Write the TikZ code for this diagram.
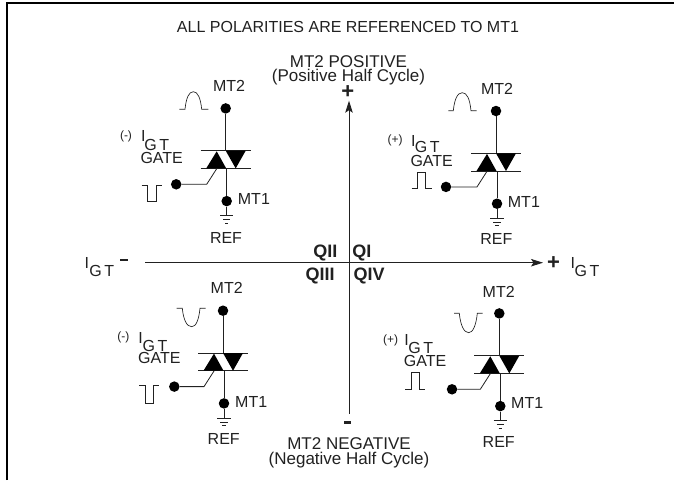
\documentclass[tikz,border=0pt]{standalone}
\usepackage{fontspec}
\setmainfont{Liberation Sans}
\usetikzlibrary{arrows.meta}
\definecolor{ink}{gray}{0.13}
\tikzset{
  x=1pt,y=-1pt,
  lbl/.style={inner sep=0pt,text=ink,font=\fontsize{16}{16}\selectfont},
  lbll/.style={lbl,anchor=west},
  axislbl/.style={inner sep=0pt,text=ink,font=\fontsize{17}{17}\selectfont},
  small/.style={inner sep=0pt,text=ink,font=\fontsize{12}{12}\selectfont},
  bold/.style={inner sep=0pt,text=ink,font=\fontsize{18}{18}\selectfont\bfseries},
  plusmark/.style={inner sep=0pt,text=ink,font=\fontsize{22}{22}\selectfont\bfseries},
  dot/.style={circle,fill=black,inner sep=0pt,minimum size=10.5pt},
  wire/.style={draw=ink,line width=0.8pt},
  thin wire/.style={draw=ink,line width=0.7pt},
  wave/.style={draw=ink,line width=0.65pt},
  axis/.style={draw=ink,line width=0.9pt},
}
\newcommand{\triac}[4]{%
  \begin{scope}[shift={(#1,#2)}]
    \draw[wire] (-25,0) -- (25,0);
    \draw[wire] (-25,17.7) -- (25,17.7);
    \fill[black] (-9,0.6) -- (-19.5,17.7) -- (0.5,17.7) -- cycle;
    \fill[black] (0,0) -- (20,0) -- (10,17.7) -- cycle;
    \node[dot] (#4t) at (0,-42.3) {};
    \node[dot] (#4b) at (1,50.4) {};
    \node[dot] (#4g) at (#3,33.6) {};
    \coordinate (#4u) at (0,0);
    \coordinate (#4l) at (1,17.7);
    \coordinate (#4e) at (-19,33.6);
    \coordinate (#4m) at (-9,18);
    \coordinate (#4gnd) at (1,65);
    \draw[wire] (#4t) -- (#4u);
    \draw[wire] (#4l) -- (#4b);
    \draw[wire] (#4g) -- (#4e) -- (#4m);
    \draw[wire] (#4b) -- (#4gnd);
    \draw[thin wire] (-5.7,65) -- (7.7,65);
    \draw[thin wire] (-2.7,69) -- (4.7,69);
    \draw[thin wire] (-0.7,72.5) -- (2.7,72.5);
  \end{scope}}
\begin{document}
\begin{tikzpicture}
\useasboundingbox (0,0) rectangle (674,480);
\fill[white] (0,0) rectangle (674,480);
\draw[black,line width=2pt] (7,480) -- (7,3) -- (674,3);

\node[lbl] (title) at (348,27.3) {ALL POLARITIES ARE REFERENCED TO MT1};
\node[axislbl] (mtp) at (348.5,61.7) {MT2 POSITIVE};
\node[axislbl] (phc) at (348.5,77.3) {(Positive Half Cycle)};
\node[axislbl] (mtn) at (349,443.5) {MT2 NEGATIVE};
\node[axislbl] (nhc) at (349,460) {(Negative Half Cycle)};

% axes
\coordinate (xa) at (145,262.7);
\coordinate (xb) at (543,262.7);
\coordinate (ya) at (349,413.5);
\coordinate (yb) at (349,100.7);
\draw[axis,-{Stealth[length=12pt,width=7.5pt,inset=2.5pt]}] (xa) -- (xb);
\draw[axis,-{Stealth[length=12pt,width=7.5pt,inset=2.5pt]}] (ya) -- (yb);
\fill[ink] (343.5,421.3) rectangle (351,424);
\fill[ink] (120.3,258.6) rectangle (127.8,261.4);
\node[plusmark] (plust) at (347.7,91.7) {+};
\node[plusmark] (plusr) at (553.6,262.7) {+};

\node[bold] (q2) at (325.4,252.7) {QII};
\node[bold] (q1) at (361.8,252.7) {QI};
\node[bold] (q3) at (320,276) {QIII};
\node[bold] (q4) at (369,276) {QIV};

\node[lbl] (il) at (86.8,262.7) {I};
\node[lbl] (gl) at (101.8,271.3) {G\,T};
\node[lbl] (ir) at (572.9,262.7) {I};
\node[lbl] (gr) at (587,270.5) {G\,T};

% Quadrant II
\triac{225.7}{150.7}{-49.5}{A}
\node[lbl] (a1) at (229,85.7) {MT2};
\node[lbll] (a2) at (237.7,199.3) {MT1};
\node[lbl] (a3) at (226,237.7) {REF};
\node[small] (a4) at (126,136) {(-)};
\node[lbl] (a5) at (143.3,136) {I};
\node[lbl] (a6) at (156.7,144.7) {G\,T};
\node[lbl] (a7) at (161.7,157.7) {GATE};
\draw[wave] (179.3,109.3) -- (185,109.3) .. controls (186.2,98) and (188.8,91.7) .. (193.3,91.7) .. controls (197.8,91.7) and (200.5,98) .. (201.7,109.3) -- (208.3,109.3);
\draw[wave] (141.7,185) -- (147.3,185) -- (147.3,201.7) -- (156,201.7) -- (156,185) -- (161.7,185);

% Quadrant I
\triac{496}{153.3}{-50}{B}
\node[lbl] (b1) at (497,89) {MT2};
\node[lbll] (b2) at (507.7,201.7) {MT1};
\node[lbl] (b3) at (496.3,239.3) {REF};
\node[small] (b4) at (395,140.7) {(+)};
\node[lbl] (b5) at (413.3,140.7) {I};
\node[lbl] (b6) at (427.3,147.3) {G\,T};
\node[lbl] (b7) at (431.7,161.3) {GATE};
\draw[wave] (448.3,110.7) -- (453.3,110.7) .. controls (454.5,99) and (457.5,92.7) .. (462.3,92.7) .. controls (467,92.7) and (469.8,99) .. (471,110.7) -- (476.7,110.7);
\draw[wave] (411.7,188.7) -- (417.7,188.7) -- (417.7,172) -- (425.3,172) -- (425.3,188.7) -- (431.7,188.7);

% Quadrant III
\triac{223}{353}{-48.7}{C}
\node[lbl] (c1) at (226.7,287.7) {MT2};
\node[lbll] (c2) at (235,401.7) {MT1};
\node[lbl] (c3) at (223.7,439.3) {REF};
\node[small] (c4) at (123.3,337.7) {(-)};
\node[lbl] (c5) at (140.7,337.7) {I};
\node[lbl] (c6) at (155,346) {G\,T};
\node[lbl] (c7) at (159.3,358.3) {GATE};
\draw[wave] (176.7,308.3) -- (182.3,308.3) .. controls (183.5,320) and (186.8,326.7) .. (191.7,326.7) .. controls (196,326.7) and (198.8,320) .. (200,308.3) -- (205.7,308.3);
\draw[wave] (139.3,385.7) -- (145.3,385.7) -- (145.3,403.3) -- (153.3,403.3) -- (153.3,385.7) -- (159.3,385.7);

% Quadrant IV
\triac{499.3}{355.7}{-47.3}{D}
\node[lbl] (d1) at (498.7,292.3) {MT2};
\node[lbll] (d2) at (511,403.3) {MT1};
\node[lbl] (d3) at (498.7,442.3) {REF};
\node[small] (d4) at (390.7,340) {(+)};
\node[lbl] (d5) at (406.7,340) {I};
\node[lbl] (d6) at (420.7,348.3) {G\,T};
\node[lbl] (d7) at (425,361.3) {GATE};
\draw[wave] (454,313.3) -- (459.3,313.3) .. controls (460.5,325) and (463.8,332.7) .. (468.7,332.7) .. controls (473,332.7) and (476.1,325) .. (477.3,313.3) -- (482.7,313.3);
\draw[wave] (405,389) -- (411.3,389) -- (411.3,372.3) -- (419.3,372.3) -- (419.3,389) -- (425,389);
\end{tikzpicture}
\end{document}
